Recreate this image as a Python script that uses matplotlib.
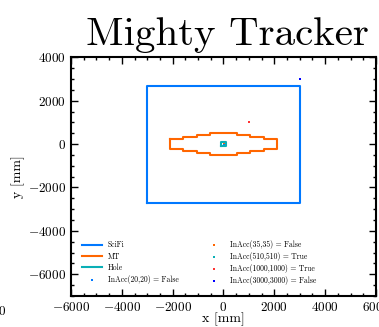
import numpy as np
import matplotlib
matplotlib.use("Agg")
import matplotlib.pyplot as plt

plt.rcParams['font.family'] = 'serif'
plt.rcParams['font.serif'] = ['cmr10']
plt.rcParams['mathtext.fontset'] = 'cm'
plt.rcParams['axes.formatter.use_mathtext'] = True
plt.rcParams['axes.unicode_minus'] = True

# detector outlines (mm)
scifi_x = [-3000, 3000, 3000, -3000, -3000]
scifi_y = [-2700, -2700, 2700, 2700, -2700]

mt_x = [-2120, -1590, -1590, -1060, -1060, -530, -530, 530, 530, 1060, 1060, 1590, 1590, 2120,
        2120, 1590, 1590, 1060, 1060, 530, 530, -530, -530, -1060, -1060, -1590, -1590, -2120, -2120]
mt_y = [215, 215, 310, 310, 420, 420, 520, 520, 420, 420, 310, 310, 215, 215,
        -215, -215, -310, -310, -420, -420, -520, -520, -420, -420, -310, -310, -215, -215, 215]

hole_x = [-100, 100, 100, -100, -100]
hole_y = [-100, -100, 100, 100, -100]

# test points and acceptance result
pts = [(20, 20), (35, 35), (510, 510), (1000, 1000), (3000, 3000)]
inacc = [False, False, True, True, False]

line_cols = ['#0078FF', '#FF6600', '#0AAFB6']
pt_cols = ['#0078FF', '#FF6600', '#0AAFB6', '#FF3333', '#0000FF']

fig = plt.figure(figsize=(3.79, 3.27), dpi=100)
ax = fig.add_axes([0.1873, 0.0948, 0.8047, 0.73])

ax.plot(scifi_x, scifi_y, color=line_cols[0], lw=1.5, label='SciFi')
ax.plot(mt_x, mt_y, color=line_cols[1], lw=1.5, label='MT')
ax.plot(hole_x, hole_y, color=line_cols[2], lw=1.5, label='Hole')
for (px, py), ok, c in zip(pts, inacc, pt_cols):
    ax.scatter([px], [py], s=4, marker='s', color=c, lw=0,
               label='InAcc(%d,%d) = %s' % (px, py, ok))

ax.set_xlim(-6000, 6000)
ax.set_ylim(-7000, 4000)
ax.set_xticks(np.arange(-6000, 6001, 2000))
ax.set_yticks(np.arange(-6000, 4001, 2000))
ax.xaxis.set_minor_locator(matplotlib.ticker.MultipleLocator(500))
ax.yaxis.set_minor_locator(matplotlib.ticker.MultipleLocator(500))
ax.tick_params(which='both', direction='in', top=True, right=True, labelsize=9.5, width=1)
ax.tick_params(which='major', length=5)
ax.tick_params(which='minor', length=2.5)
for s in ax.spines.values():
    s.set_linewidth(1.5)

ax.set_xlabel('x [mm]', fontsize=10, labelpad=-1)
ax.set_ylabel('y [mm]', fontsize=10, labelpad=2)

ax.legend(loc='lower left', ncol=2, fontsize=5.5, frameon=False, columnspacing=3.4,
          handlelength=2.5, labelspacing=0.38, bbox_to_anchor=(0.015, 0.017), markerscale=0.8)

fig.text(0.601, 0.862, 'Mighty Tracker', fontsize=29.5, ha='center', va='baseline')
fig.text(0.013, 0.036, '0', fontsize=9.5, ha='right', va='baseline')

fig.savefig('out.png', dpi=100)
